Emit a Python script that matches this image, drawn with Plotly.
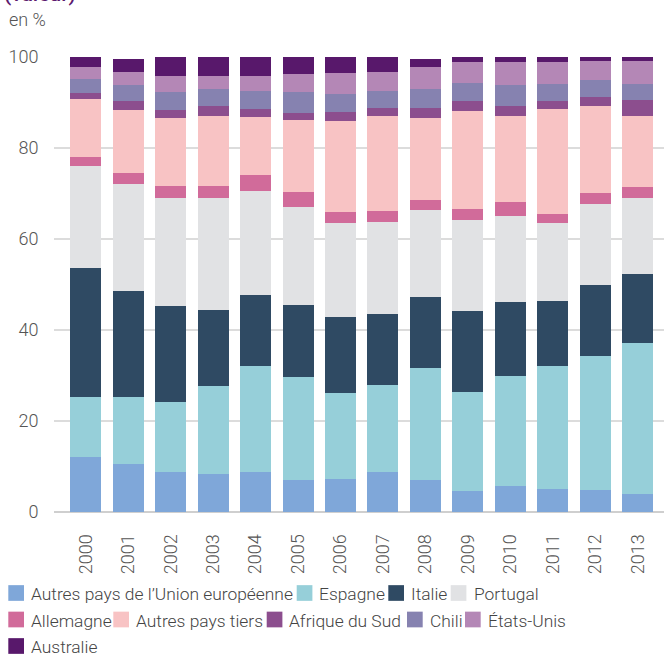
import plotly.graph_objects as go

years = ["2000", "2001", "2002", "2003", "2004", "2005", "2006",
         "2007", "2008", "2009", "2010", "2011", "2012", "2013"]

autres_ue = [12.1, 10.5, 8.8, 8.4, 8.8, 7.0, 7.3, 8.8, 7.0, 4.6, 5.7, 5.1, 4.8, 4.0]
espagne = [13.2, 14.8, 15.4, 19.3, 23.3, 22.7, 18.9, 19.1, 24.6, 21.8, 24.2, 27.0, 29.5, 33.1]
italie = [28.3, 23.3, 21.1, 16.7, 15.6, 15.8, 16.7, 15.6, 15.7, 17.8, 16.3, 14.3, 15.6, 15.2]
portugal = [22.4, 23.5, 23.7, 24.6, 22.8, 21.5, 20.6, 20.2, 19.1, 20.0, 18.9, 17.1, 17.8, 16.7]
allemagne = [2.0, 2.4, 2.6, 2.6, 3.6, 3.3, 2.4, 2.5, 2.2, 2.4, 3.0, 2.0, 2.4, 2.4]
autres_tiers = [12.8, 13.9, 15.0, 15.4, 12.7, 15.9, 20.0, 20.8, 18.0, 21.5, 18.9, 23.1, 19.1, 15.6]
afrique_sud = [1.3, 1.9, 1.8, 2.2, 1.8, 1.5, 2.0, 1.8, 2.2, 2.2, 2.2, 1.7, 2.0, 3.5]
chili = [3.1, 3.5, 3.9, 3.8, 3.9, 4.6, 4.0, 3.7, 4.2, 4.0, 4.6, 3.8, 3.7, 3.6]
etats_unis = [2.6, 2.9, 3.5, 2.8, 3.3, 4.0, 4.6, 4.2, 4.8, 4.6, 5.1, 4.8, 4.2, 5.0]
australie = [2.2, 2.9, 4.2, 4.2, 4.2, 3.7, 3.5, 3.3, 1.7, 1.1, 1.1, 1.1, 0.9, 0.9]

series_names = ["Autres pays de l\u2019Union européenne", "Espagne", "Italie", "Portugal",
                "Allemagne", "Autres pays tiers", "Afrique du Sud", "Chili",
                "États-Unis", "Australie"]
series_values = [autres_ue, espagne, italie, portugal, allemagne, autres_tiers,
                 afrique_sud, chili, etats_unis, australie]
colors = ["#7FA7D9", "#96CFD9", "#2F4A63", "#E1E2E4", "#D16B9A",
          "#F8C3C4", "#8C4E8E", "#8682B0", "#B487B6", "#58186B"]

y_ticks = [0, 20, 40, 60, 80, 100]

W, H = 664, 654
L, R, T, B = 54, 0, 57, 142
PW, PH = W - L - R, H - T - B
FONT = "Roboto"
TXT = "#555555"

def px2x(px):
    return (px - L) / PW

def px2y(py):
    return (H - B - py) / PH

fig = go.Figure()
for name, vals, col in zip(series_names, series_values, colors):
    fig.add_trace(go.Bar(x=years, y=vals, name=name, marker_color=col,
                         marker_line_width=0, showlegend=False))

# manual legend (swatch x, text x, row center y) in pixels
legend_pos = [
    (8.3, 29.3, 593), (296.7, 317.3, 593), (388.3, 409.3, 593), (450.7, 471.5, 593),
    (8.3, 29.3, 619.5), (113.3, 134.3, 619.5), (266.7, 286.7, 619.5),
    (407.0, 427.5, 619.5), (465.0, 485.5, 619.5),
    (8.3, 29.3, 646),
]
shapes = []
annotations = []
SW = 15.7
for (sx, tx, cy), name, col in zip(legend_pos, series_names, colors):
    shapes.append(dict(type="rect", xref="paper", yref="paper",
                       x0=px2x(sx), x1=px2x(sx + SW),
                       y0=px2y(cy + SW / 2), y1=px2y(cy - SW / 2),
                       fillcolor=col, line_width=0))
    annotations.append(dict(text=name, xref="paper", yref="paper",
                            x=px2x(tx), y=px2y(cy + 1), xanchor="left", yanchor="middle",
                            showarrow=False,
                            font=dict(family=FONT, size=17.4, color="#444444", weight=300)))

annotations.append(dict(text="en %", xref="paper", yref="paper",
                        x=px2x(7), y=px2y(19), xanchor="left", yanchor="middle",
                        showarrow=False,
                        font=dict(family=FONT, size=18, color=TXT, weight=300)))
annotations.append(dict(text="(valeur)", xref="paper", yref="paper",
                        x=px2x(2), y=px2y(8), xanchor="left", yanchor="bottom",
                        showarrow=False,
                        font=dict(family=FONT, size=21, color="#5C1A6E", weight=500)))

fig.update_layout(
    barmode="stack",
    bargap=0.27,
    width=W, height=H,
    margin=dict(l=L, r=R, t=T, b=B, pad=0),
    plot_bgcolor="white", paper_bgcolor="white",
    shapes=shapes, annotations=annotations,
    showlegend=False,
)
fig.update_xaxes(type="category", range=[-0.75, 13.62], showgrid=False,
                 tickangle=-90, ticks="outside", ticklen=14, tickcolor="rgba(0,0,0,0)",
                 tickfont=dict(family=FONT, size=18, color=TXT, weight=300),
                 showline=False, fixedrange=True)
fig.update_yaxes(range=[0, 100], tickvals=y_ticks, showgrid=True,
                 gridcolor="#DCDCDC", gridwidth=1.5,
                 zeroline=True, zerolinecolor="#CFCFCF", zerolinewidth=2,
                 ticks="outside", ticklen=11, tickcolor="rgba(0,0,0,0)",
                 tickfont=dict(family=FONT, size=18, color=TXT, weight=300),
                 layer="below traces", fixedrange=True)

fig.write_html("out.html",
               config={"displayModeBar": False},
               post_script="document.body.style.margin='0';document.body.style.overflow='hidden';")
